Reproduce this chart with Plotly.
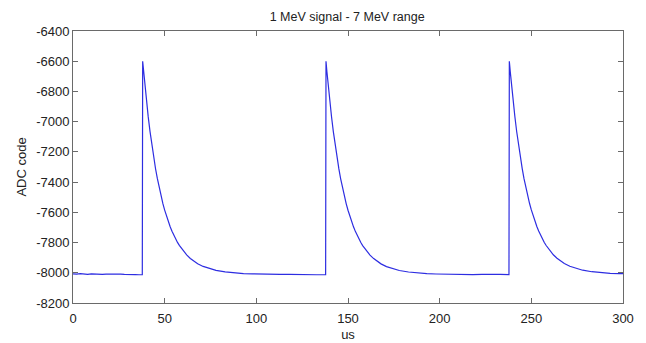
import plotly.graph_objects as go

# ---- data (time in us, ADC code) ----
baseline_us_1 = [0, 2, 4, 6, 8, 10, 12, 14, 16, 18, 20, 22, 24, 26, 28, 30, 32, 34, 36, 37.8]
baseline_adc_1 = [-8007, -8009, -8006, -8009, -8011, -8007, -8010, -8008, -8011, -8009,
                  -8008, -8012, -8010, -8009, -8011, -8013, -8010, -8012, -8013, -8012]

# offsets (us) after each pulse start, and ADC values read along the decay
pulse_offsets = [0, 0.5, 1, 2, 3, 4, 5, 6, 7, 8, 9, 10, 11, 12, 13, 14, 15, 16, 17, 18, 19, 20,
                 22, 24, 26, 28, 30, 33, 36, 40, 45, 50, 55, 60, 65, 70, 75, 80, 85, 90, 95, 99.8]
pulse1_adc = [-6600, -6668, -6734, -6856, -6965, -7064, -7155, -7236, -7310, -7376, -7437, -7491,
              -7541, -7585, -7626, -7662, -7695, -7725, -7752, -7777, -7799, -7819,
              -7854, -7882, -7905, -7924, -7940, -7958, -7971, -7984, -7994, -8001, -8005, -8007,
              -8009, -8008, -8011, -8010, -8012, -8010, -8013, -8012]
pulse2_adc = [-6600, -6670, -6736, -6857, -6966, -7066, -7156, -7238, -7311, -7378, -7438, -7492,
              -7542, -7586, -7627, -7663, -7696, -7726, -7753, -7778, -7800, -7820,
              -7855, -7883, -7906, -7925, -7941, -7959, -7972, -7985, -7995, -8002, -8006, -8008,
              -8010, -8009, -8011, -8012, -8010, -8013, -8011, -8012]
pulse3_adc = [-6600, -6669, -6735, -6855, -6964, -7065, -7154, -7237, -7309, -7377, -7436, -7490,
              -7540, -7584, -7625, -7661, -7694, -7724, -7751, -7776, -7798, -7818,
              -7853, -7881, -7904, -7923, -7939, -7957, -7970, -7983, -7993, -8000, -8004, -8006,
              -8008, -8007, -8010, -8009, -8011, -8012, -8008, -8006]
pulse_starts = [38, 138, 238]

x_tick_vals = [0, 50, 100, 150, 200, 250, 300]
x_tick_text = ["0", "50", "100", "150", "200", "250", "300"]
y_tick_vals = [-8200, -8000, -7800, -7600, -7400, -7200, -7000, -6800, -6600, -6400]
y_tick_text = ["-8200", "-8000", "-7800", "-7600", "-7400", "-7200", "-7000", "-6800", "-6600", "-6400"]

# ---- assemble the trace ----
us = list(baseline_us_1)
adc = list(baseline_adc_1)
for start, vals in zip(pulse_starts, [pulse1_adc, pulse2_adc, pulse3_adc]):
    for off, v in zip(pulse_offsets, vals):
        t = start + off
        if t <= 300:
            us.append(t)
            adc.append(v)
us.append(300)
adc.append(-8006)

fig = go.Figure()
fig.add_trace(go.Scatter(x=us, y=adc, mode="lines",
                         line=dict(color="rgb(45,45,225)", width=1.2),
                         showlegend=False, hoverinfo="skip"))

font = dict(family="Liberation Sans, Arial, sans-serif", size=13, color="#222222")
axis_common = dict(showgrid=False, zeroline=False, showline=True, linecolor="#6a6a6a",
                   linewidth=1, mirror="ticks", ticks="inside", ticklen=5, tickcolor="#6a6a6a",
                   tickfont=font)

fig.update_layout(
    width=646, height=343,
    margin=dict(l=65, r=31, t=23, b=48, autoexpand=False),
    paper_bgcolor="white", plot_bgcolor="white",
    font=font,
    title=dict(text="1 MeV signal - 7 MeV range", x=0.525, xanchor="center",
               y=0.974, yanchor="middle", font=dict(family=font["family"], size=12.5, color="#222222")),
    xaxis=dict(range=[0, 300], tickvals=x_tick_vals, ticktext=x_tick_text,
               ticklabelstandoff=3,
               title=dict(text="us", standoff=5, font=font), **axis_common),
    yaxis=dict(range=[-8200, -6400], tickvals=y_tick_vals, ticktext=y_tick_text,
               title=dict(text="ADC code", standoff=6, font=font), **axis_common),
)

fig.write_html("out.html")
